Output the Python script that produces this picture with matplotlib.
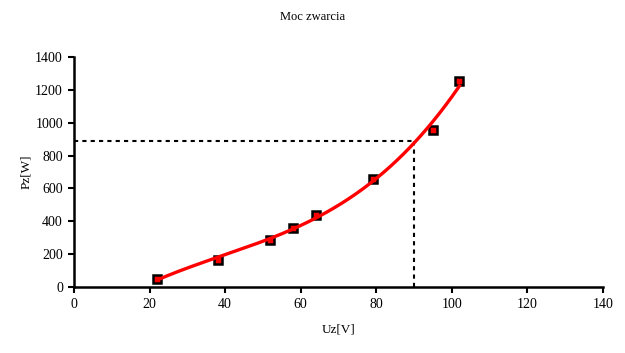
import numpy as np
import matplotlib
matplotlib.use("Agg")
import matplotlib.pyplot as plt

plt.rcParams['font.family'] = ['Liberation Serif', 'DejaVu Serif']

# measured points
uz = [22, 38, 52, 58, 64, 79, 95, 102]
pz = [50, 165, 285, 360, 440, 655, 957, 1255]

# working point read from the dotted guides
u_work = 90
p_work = 890

x_ticks = [0, 20, 40, 60, 80, 100, 120, 140]
y_ticks = [0, 200, 400, 600, 800, 1000, 1200, 1400]

fig = plt.figure(figsize=(6.25, 3.53), dpi=100)
ax = fig.add_axes([0.1184, 0.187, 0.8464, 0.6515])

# trend line (3rd order polynomial, as in the original spreadsheet chart)
coef = np.polyfit(uz, pz, 3)
xs = np.linspace(min(uz), max(uz), 200)
ax.plot(xs, np.polyval(coef, xs), color='red', lw=2.4, zorder=3)

ax.plot(uz, pz, ls='none', marker='s', ms=6, mfc='red', mec='black', mew=1.8, zorder=2)

ax.plot([0, u_work], [p_work, p_work], color='black', ls=(0, (2, 2)), lw=1.5, zorder=1)
ax.plot([u_work, u_work], [0, p_work], color='black', ls=(0, (2, 2)), lw=1.5, zorder=1)

ax.set_xlim(0, 140)
ax.set_ylim(0, 1400)
ax.set_xticks(x_ticks)
ax.set_yticks(y_ticks)
for s in ['top', 'right']:
    ax.spines[s].set_visible(False)
for s in ['left', 'bottom']:
    ax.spines[s].set_linewidth(1.8)
ax.tick_params(direction='out', length=4, width=1.5, labelsize=10, pad=4)

ax.set_xlabel('Uz[V]', fontsize=9.5, labelpad=9)
ax.set_ylabel('Pz[W]', fontsize=9.5, labelpad=2)
fig.text(0.5, 0.952, 'Moc zwarcia', ha='center', va='center', fontsize=9)

fig.savefig('out.png', dpi=100)
